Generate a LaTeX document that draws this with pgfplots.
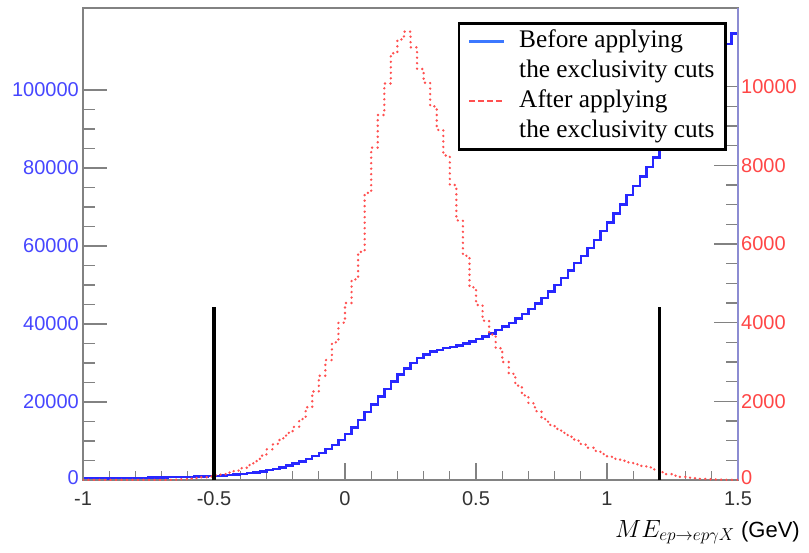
\documentclass[border=0pt]{standalone}
\usepackage{fontspec}
\setmainfont{Liberation Serif}
\setsansfont{Liberation Sans}
\usepackage{pgfplots}
\pgfplotsset{compat=1.18}
\usepackage{pgfplotstable}

\definecolor{histblue}{RGB}{40,40,255}
\definecolor{histred}{RGB}{255,80,80}
\definecolor{labblue}{RGB}{70,70,255}
\definecolor{labred}{RGB}{255,70,70}
\definecolor{framegray}{RGB}{130,130,130}
\definecolor{rightaxis}{RGB}{140,140,210}
\definecolor{legblue}{RGB}{60,120,255}

\pgfplotstableread{
x y
-1.000 400
-0.975 400
-0.950 420
-0.925 430
-0.900 450
-0.875 470
-0.850 490
-0.825 510
-0.800 540
-0.775 570
-0.750 600
-0.725 630
-0.700 670
-0.675 700
-0.650 740
-0.625 780
-0.600 830
-0.575 880
-0.550 940
-0.525 1000
-0.500 1080
-0.475 1170
-0.450 1270
-0.425 1400
-0.400 1550
-0.375 1750
-0.350 1950
-0.325 2200
-0.300 2500
-0.275 2850
-0.250 3250
-0.225 3700
-0.200 4200
-0.175 4750
-0.150 5350
-0.125 6100
-0.100 6900
-0.075 7900
-0.050 9000
-0.025 10300
0.000 11800
0.025 13500
0.050 15400
0.075 17400
0.100 19400
0.125 21400
0.150 23300
0.175 25200
0.200 27000
0.225 28600
0.250 30000
0.275 31200
0.300 32200
0.325 32900
0.350 33400
0.375 33800
0.400 34100
0.425 34500
0.450 35000
0.475 35500
0.500 36100
0.525 36800
0.550 37600
0.575 38400
0.600 39300
0.625 40300
0.650 41400
0.675 42500
0.700 43800
0.725 45200
0.750 46700
0.775 48300
0.800 50000
0.825 51800
0.850 53700
0.875 55600
0.900 57500
0.925 59500
0.950 61600
0.975 63800
1.000 66000
1.025 68300
1.050 70600
1.075 73000
1.100 75400
1.125 77800
1.150 80200
1.175 82700
1.200 85200
1.225 87700
1.250 90200
1.275 92800
1.300 95400
1.325 98000
1.350 100700
1.375 103400
1.400 106100
1.425 108900
1.450 111700
1.475 114500
1.500 114500
}\bluedata

\pgfplotstableread{
x y
-1.000 0
-0.975 0
-0.950 0
-0.925 0
-0.900 0
-0.875 0
-0.850 0
-0.825 0
-0.800 0
-0.775 0
-0.750 0
-0.725 0
-0.700 0
-0.675 5
-0.650 10
-0.625 20
-0.600 35
-0.575 50
-0.550 70
-0.525 90
-0.500 120
-0.475 150
-0.450 190
-0.425 240
-0.400 300
-0.375 380
-0.350 480
-0.325 620
-0.300 780
-0.275 920
-0.250 1060
-0.225 1200
-0.200 1350
-0.175 1550
-0.150 1850
-0.125 2250
-0.100 2650
-0.075 3050
-0.050 3500
-0.025 4000
0.000 4500
0.025 5100
0.050 5800
0.075 7300
0.100 8450
0.125 9280
0.150 10080
0.175 10850
0.200 11200
0.225 11400
0.250 11000
0.275 10450
0.300 10100
0.325 9500
0.350 8900
0.375 8250
0.400 7500
0.425 6600
0.450 5700
0.475 4900
0.500 4450
0.525 4050
0.550 3700
0.575 3350
0.600 3000
0.625 2700
0.650 2400
0.675 2150
0.700 1950
0.725 1750
0.750 1550
0.775 1400
0.800 1300
0.825 1200
0.850 1100
0.875 1000
0.900 900
0.925 820
0.950 740
0.975 660
1.000 590
1.025 540
1.050 490
1.075 450
1.100 400
1.125 360
1.150 320
1.175 270
1.200 200
1.225 150
1.250 110
1.275 80
1.300 60
1.325 45
1.350 30
1.375 20
1.400 15
1.425 10
1.450 5
1.475 5
1.500 5
}\reddata

\pgfplotsset{
  base/.style={
    scale only axis, width=655pt, height=472pt,
    xmin=-1, xmax=1.5,
    tick label style={font=\sffamily\fontsize{20}{24}\selectfont},
    scaled ticks=false,
    axis line style={framegray, line width=1.2pt},
    tick style={framegray, line width=1.2pt},
  },
}

\begin{document}
\begin{tikzpicture}
% axis 1: frame, x axis, blue histogram
\begin{axis}[base,
  ymin=0, ymax=121000,
  xtick={-1,-0.5,0,0.5,1,1.5},
  xticklabels={-1,-0.5,0,0.5,1,1.5},
  minor x tick num=4,
  xtick pos=left,
  ytick=\empty,
  major tick length=17pt, minor tick length=9pt,
  xticklabel style={text=black!80, yshift=-8pt},
  xlabel={$ME_{ep\rightarrow ep\gamma X}$ {\sffamily\fontsize{22}{26}\selectfont (GeV)}},
  xlabel style={at={(rel axis cs:1,0)}, anchor=base east, xshift=62pt, yshift=-57pt,
    font=\fontsize{25}{30}\selectfont, inner sep=0pt},
]
\addplot[const plot, histblue, line width=2.4pt] table {\bluedata};
\coordinate (bl) at (rel axis cs:0,0);
\coordinate (tr) at (rel axis cs:1,1);
\end{axis}
% axis 2: left y axis
\begin{axis}[base,
  ymin=0, ymax=121000,
  hide x axis,
  axis y line*=left,
  ytick={0,20000,40000,60000,80000,100000},
  yticklabels={\raisebox{4pt}{0},20000,40000,60000,80000,100000},
  minor y tick num=3,
  major tick length=24pt, minor tick length=12pt,
  yticklabel style={text=labblue, inner xsep=4pt},
]
\addplot[draw=none] coordinates {(0,0)};
\end{axis}
% axis 3: right y axis, red histogram, cut lines, legend
\begin{axis}[base,
  ymin=0, ymax=12000,
  hide x axis,
  axis y line*=right,
  axis line style={rightaxis, line width=1.5pt},
  ytick={0,2000,4000,6000,8000,10000},
  yticklabels={\raisebox{4pt}{0},2000,4000,6000,8000,10000},
  minor y tick num=3,
  major tick length=24pt, minor tick length=12pt,
  yticklabel style={text=labred, inner xsep=3pt},
  legend image code/.code={\draw[#1] (0pt,0pt) -- (35pt,0pt);},
  legend style={at={(rel axis cs:0.983,0.970)}, anchor=north east,
    draw=black, line width=2.6pt, fill=white,
    font=\fontsize{25.3}{30}\selectfont,
    inner xsep=9pt, inner ysep=3pt, column sep=12pt,
    nodes={text height=18.5pt, text depth=6.5pt, inner ysep=2.5pt, line width=0.4pt}},
  legend cell align=left,
]
\addplot[const plot, histred, line width=2.6pt, line cap=round, dash pattern=on 0pt off 5.5pt, forget plot] table {\reddata};
\addplot[black, line width=3.5pt, forget plot] coordinates {(-0.5,0) (-0.5,4400)};
\addplot[black, line width=3.5pt, forget plot] coordinates {(1.2,0) (1.2,4400)};
\addlegendimage{legblue, line width=2.2pt}
\addlegendentry{Before applying}
\addlegendimage{empty legend}
\addlegendentry{the exclusivity cuts}
\addlegendimage{histred, line width=2pt, dash pattern=on 6pt off 3pt}
\addlegendentry{After applying}
\addlegendimage{empty legend}
\addlegendentry{the exclusivity cuts}
\end{axis}
\pgfresetboundingbox
\path ([shift={(-83pt,-72pt)}]bl) rectangle ([shift={(71pt,8pt)}]tr);
\end{tikzpicture}
\end{document}
